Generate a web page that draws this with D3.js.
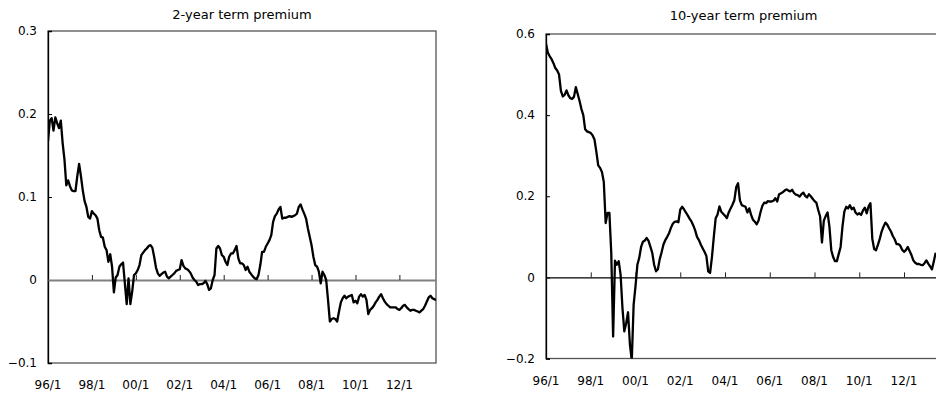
<!DOCTYPE html>
<html>
<head>
<meta charset="utf-8">
<script src="https://cdn.jsdelivr.net/npm/d3@7"></script>
<style>
  body { margin: 0; background: #fff; }
  svg text { font-family: "DejaVu Sans", sans-serif; fill: #000; }
</style>
</head>
<body>
<div id="chart"></div>
<script>
// x軸ラベル (月インデックス: 1996/1 = 0)
const tickLabels = ["96/1", "98/1", "00/1", "02/1", "04/1", "06/1", "08/1", "10/1", "12/1"];
const tickMonths = [0, 24, 48, 72, 96, 120, 144, 168, 192];
const lastMonth = 212; // 2013/9

// 2年ターム・プレミアム (月次)
const premium2y = [
  0.167, 0.192, 0.195, 0.180, 0.196, 0.189, 0.183, 0.192, 0.165, 0.145,
  0.114, 0.120, 0.113, 0.108, 0.107, 0.107, 0.125, 0.140, 0.125, 0.108,
  0.095, 0.088, 0.076, 0.074, 0.083, 0.080, 0.078, 0.074, 0.060, 0.052,
  0.051, 0.040, 0.036, 0.022, 0.031, 0.016, -0.015, 0.003, 0.006, 0.016,
  0.019, 0.021, -0.004, -0.029, 0.002, -0.029, -0.014, 0.006, 0.008, 0.012,
  0.018, 0.030, 0.033, 0.036, 0.038, 0.041, 0.042, 0.039, 0.028, 0.015,
  0.008, 0.005, 0.007, 0.009, 0.010, 0.004, 0.002, 0.004, 0.006, 0.008,
  0.011, 0.012, 0.013, 0.024, 0.017, 0.014, 0.013, 0.011, 0.008, 0.003,
  0.000, -0.002, -0.006, -0.005, -0.005, -0.004, -0.001, -0.005, -0.012, -0.010,
  0.000, 0.006, 0.038, 0.041, 0.038, 0.030, 0.028, 0.022, 0.018, 0.028,
  0.032, 0.032, 0.036, 0.041, 0.026, 0.020, 0.020, 0.018, 0.012, 0.016,
  0.010, 0.007, 0.004, 0.002, 0.001, 0.006, 0.018, 0.034, 0.034, 0.040,
  0.044, 0.048, 0.054, 0.070, 0.077, 0.080, 0.085, 0.088, 0.074, 0.075,
  0.075, 0.076, 0.077, 0.076, 0.077, 0.078, 0.080, 0.088, 0.091, 0.085,
  0.080, 0.074, 0.062, 0.052, 0.042, 0.028, 0.018, 0.016, 0.010, -0.004,
  0.010, 0.006, 0.000, -0.024, -0.050, -0.047, -0.046, -0.047, -0.050, -0.038,
  -0.027, -0.022, -0.019, -0.022, -0.020, -0.019, -0.018, -0.027, -0.025, -0.028,
  -0.020, -0.017, -0.020, -0.018, -0.024, -0.041, -0.036, -0.034, -0.031, -0.027,
  -0.024, -0.020, -0.017, -0.022, -0.026, -0.029, -0.031, -0.033, -0.033, -0.033,
  -0.033, -0.035, -0.036, -0.034, -0.031, -0.030, -0.033, -0.035, -0.037, -0.036,
  -0.036, -0.037, -0.038, -0.039, -0.037, -0.035, -0.031, -0.026, -0.021, -0.019,
  -0.022, -0.023, -0.024
];

// 10年ターム・プレミアム (月次)
const premium10y = [
  0.576, 0.554, 0.545, 0.538, 0.528, 0.516, 0.510, 0.500, 0.460, 0.446,
  0.450, 0.461, 0.449, 0.442, 0.440, 0.445, 0.469, 0.452, 0.435, 0.415,
  0.400, 0.365, 0.360, 0.358, 0.356, 0.350, 0.340, 0.310, 0.276, 0.270,
  0.260, 0.235, 0.134, 0.159, 0.159, 0.060, -0.146, 0.041, 0.031, 0.040,
  0.007, -0.075, -0.133, -0.113, -0.086, -0.165, -0.205, -0.067, -0.022, 0.031,
  0.048, 0.075, 0.088, 0.091, 0.097, 0.090, 0.075, 0.060, 0.031, 0.015,
  0.020, 0.045, 0.062, 0.081, 0.092, 0.100, 0.109, 0.122, 0.132, 0.137,
  0.138, 0.136, 0.167, 0.174, 0.168, 0.160, 0.153, 0.145, 0.138, 0.128,
  0.116, 0.100, 0.092, 0.081, 0.072, 0.063, 0.053, 0.015, 0.011, 0.050,
  0.100, 0.146, 0.155, 0.175, 0.162, 0.157, 0.152, 0.146, 0.160, 0.170,
  0.179, 0.190, 0.222, 0.232, 0.190, 0.178, 0.176, 0.174, 0.160, 0.170,
  0.154, 0.142, 0.137, 0.131, 0.140, 0.160, 0.176, 0.184, 0.183, 0.188,
  0.187, 0.187, 0.189, 0.195, 0.187, 0.205, 0.207, 0.210, 0.214, 0.217,
  0.214, 0.212, 0.216, 0.208, 0.204, 0.203, 0.199, 0.205, 0.209, 0.201,
  0.197, 0.205, 0.200, 0.194, 0.188, 0.184, 0.166, 0.150, 0.086, 0.140,
  0.151, 0.160, 0.125, 0.067, 0.050, 0.040, 0.040, 0.058, 0.075, 0.125,
  0.162, 0.174, 0.170, 0.178, 0.168, 0.172, 0.160, 0.155, 0.158, 0.154,
  0.165, 0.172, 0.158, 0.175, 0.183, 0.095, 0.070, 0.067, 0.080, 0.095,
  0.113, 0.125, 0.135, 0.130, 0.121, 0.113, 0.102, 0.094, 0.082, 0.082,
  0.078, 0.068, 0.063, 0.067, 0.075, 0.065, 0.055, 0.042, 0.036, 0.033,
  0.033, 0.031, 0.030, 0.035, 0.042, 0.034, 0.027, 0.020, 0.040, 0.061
];

const yTicks2y = [-0.1, 0, 0.1, 0.2, 0.3];
const yTicks10y = [-0.2, 0, 0.2, 0.4, 0.6];

const width = 936;
const height = 396;

const svg = d3.select("#chart")
  .append("svg")
  .attr("width", width)
  .attr("height", height);

const fmt = d => d === 0 ? "0" : d3.format(".1f")(d);

function drawPanel(p) {
  const x = d3.scaleLinear().domain([0, lastMonth]).range([p.left, p.right]);
  const y = d3.scaleLinear().domain(p.domain).range([p.bottom, p.top]);
  const g = svg.append("g");

  // タイトル
  g.append("text")
    .attr("x", (p.left + p.right) / 2)
    .attr("y", p.titleY)
    .attr("text-anchor", "middle")
    .style("font-size", "13px")
    .text(p.title);

  // 枠
  g.append("rect")
    .attr("x", p.left).attr("y", p.top)
    .attr("width", p.right - p.left).attr("height", p.bottom - p.top)
    .attr("fill", "none")
    .attr("stroke", "#555")
    .attr("stroke-width", 1.3);

  // y軸 (目盛りは内向き)
  const yAxis = g.append("g")
    .attr("transform", `translate(${p.left},0)`)
    .call(d3.axisRight(y).tickValues(p.yTicks).tickSize(4).tickFormat(""));
  yAxis.select(".domain").attr("stroke", "#000").attr("stroke-width", 1.3);
  yAxis.selectAll(".tick line").attr("stroke", "#000");

  g.selectAll(".ylab")
    .data(p.yTicks)
    .enter()
    .append("text")
    .attr("x", p.left - 11)
    .attr("y", d => y(d))
    .attr("dy", "0.35em")
    .attr("text-anchor", "end")
    .style("font-size", "12px")
    .text(fmt);

  // ゼロ線と目盛り (上向き)
  const xAxis = g.append("g")
    .attr("transform", `translate(0,${y(0)})`)
    .call(d3.axisTop(x).tickValues(tickMonths.slice(1)).tickSize(5).tickSizeOuter(0).tickFormat(""));
  xAxis.select(".domain").attr("stroke", p.zeroColor).attr("stroke-width", p.zeroWidth);
  xAxis.selectAll(".tick line").attr("stroke", "#222");

  // x軸ラベル (下端)
  g.selectAll(".xlab")
    .data(tickLabels)
    .enter()
    .append("text")
    .attr("x", (d, i) => x(tickMonths[i]))
    .attr("y", p.labelY)
    .attr("text-anchor", "middle")
    .style("font-size", "12px")
    .text(d => d);

  // 系列
  const clipId = "clip-" + p.id;
  svg.append("clipPath").attr("id", clipId)
    .append("rect")
    .attr("x", p.left).attr("y", p.top)
    .attr("width", p.right - p.left).attr("height", p.bottom - p.top);

  const line = d3.line()
    .x((d, i) => x(i))
    .y(d => y(d));

  g.append("path")
    .datum(p.values)
    .attr("clip-path", `url(#${clipId})`)
    .attr("fill", "none")
    .attr("stroke", "#000")
    .attr("stroke-width", 2.3)
    .attr("stroke-linejoin", "round")
    .attr("d", line);
}

drawPanel({
  id: "p2", title: "2-year term premium", values: premium2y,
  domain: [-0.1, 0.3], yTicks: yTicks2y,
  left: 48, right: 436, top: 31, bottom: 363,
  titleY: 19, labelY: 389, zeroColor: "#808080", zeroWidth: 2
});

drawPanel({
  id: "p10", title: "10-year term premium", values: premium10y,
  domain: [-0.2, 0.6], yTicks: yTicks10y,
  left: 546, right: 941.3, top: 34, bottom: 358.5,
  titleY: 20, labelY: 385, zeroColor: "#000", zeroWidth: 1.3
});
</script>
</body>
</html>
